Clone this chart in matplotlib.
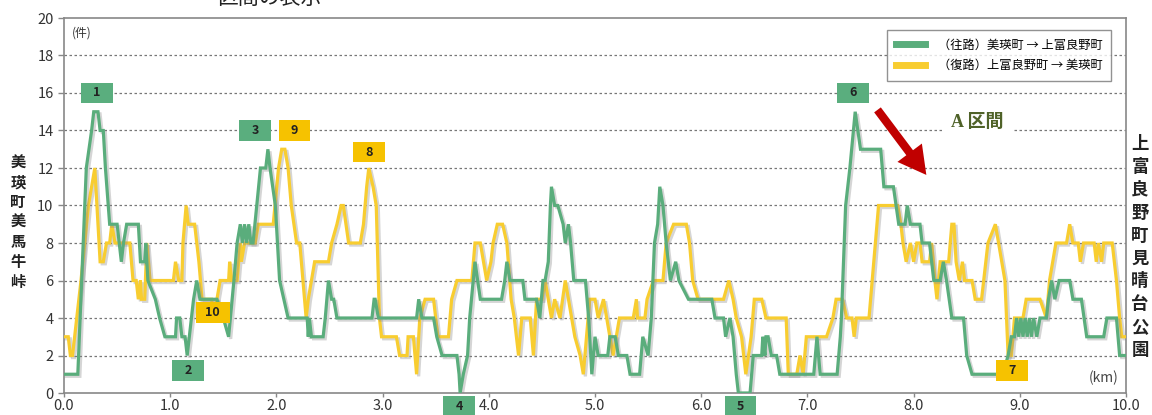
import matplotlib
matplotlib.use("Agg")
import matplotlib.pyplot as plt
import matplotlib.patheffects as pe
from matplotlib.lines import Line2D
from matplotlib.patches import Rectangle

plt.rcParams['font.family'] = ['Noto Sans CJK JP', 'DejaVu Sans']

# (km, 件数)
green_pts = [(0.00, 1), (0.13, 1), (0.21, 12), (0.26, 14), (0.28, 15), (0.32, 15), (0.34, 14), (0.37, 14),
             (0.39, 12), (0.43, 9), (0.50, 9), (0.52, 8), (0.54, 7), (0.56, 8), (0.59, 9), (0.70, 9),
             (0.72, 7), (0.76, 7), (0.77, 8), (0.79, 6), (0.86, 5), (0.90, 4), (0.95, 3), (1.05, 3),
             (1.06, 4), (1.09, 4), (1.11, 3), (1.14, 3), (1.16, 2), (1.18, 3), (1.22, 5), (1.25, 6),
             (1.28, 5), (1.44, 5), (1.50, 4), (1.55, 3), (1.60, 6), (1.63, 8), (1.66, 9), (1.68, 8),
             (1.70, 9), (1.72, 8), (1.74, 9), (1.76, 8), (1.78, 8), (1.85, 12), (1.90, 12), (1.92, 13),
             (1.94, 12), (1.99, 10), (2.03, 6), (2.07, 5), (2.11, 4), (2.29, 4), (2.30, 3), (2.31, 4),
             (2.33, 3), (2.44, 3), (2.46, 4), (2.49, 6), (2.52, 5), (2.54, 5), (2.57, 4), (2.90, 4),
             (2.92, 5), (2.93, 5), (2.96, 4), (3.32, 4), (3.34, 5), (3.37, 4), (3.48, 4), (3.51, 3),
             (3.56, 2), (3.70, 2), (3.72, 1), (3.73, 0), (3.76, 1), (3.80, 2), (3.82, 4), (3.87, 7),
             (3.92, 5), (4.12, 5), (4.15, 6), (4.17, 7), (4.20, 6), (4.32, 6), (4.34, 5), (4.45, 5),
             (4.48, 4), (4.51, 6), (4.53, 6), (4.56, 7), (4.58, 10), (4.59, 11), (4.62, 10), (4.65, 10),
             (4.70, 9), (4.72, 8), (4.75, 9), (4.77, 8), (4.80, 6), (4.91, 6), (4.94, 4), (4.97, 1),
             (5.00, 3), (5.03, 2), (5.12, 2), (5.14, 3), (5.19, 3), (5.22, 2), (5.30, 2), (5.33, 1),
             (5.42, 1), (5.45, 3), (5.50, 2), (5.53, 4), (5.56, 8), (5.59, 9), (5.61, 11), (5.64, 10),
             (5.67, 8), (5.71, 6), (5.76, 7), (5.79, 6), (5.88, 5), (6.10, 5), (6.13, 4), (6.21, 4),
             (6.23, 3), (6.27, 4), (6.30, 3), (6.33, 1), (6.35, 0), (6.46, 0), (6.49, 2), (6.57, 2),
             (6.58, 3), (6.60, 2), (6.61, 3), (6.63, 3), (6.66, 2), (6.71, 2), (6.74, 1), (7.06, 1),
             (7.09, 3), (7.12, 1), (7.28, 1), (7.31, 3), (7.32, 4), (7.36, 10), (7.40, 12), (7.45, 15),
             (7.50, 13), (7.69, 13), (7.72, 11), (7.81, 11), (7.86, 9), (7.92, 9), (7.94, 10), (7.97, 9),
             (8.06, 9), (8.08, 8), (8.15, 8), (8.19, 6), (8.25, 6), (8.28, 7), (8.31, 6), (8.36, 4),
             (8.47, 4), (8.50, 2), (8.55, 1), (8.84, 1), (8.89, 2), (8.92, 3), (8.95, 3), (8.97, 4),
             (8.99, 3), (9.01, 4), (9.03, 3), (9.05, 4), (9.07, 3), (9.09, 4), (9.11, 3), (9.13, 4),
             (9.16, 3), (9.19, 4), (9.25, 4), (9.27, 5), (9.30, 6), (9.33, 5), (9.37, 6), (9.47, 6),
             (9.50, 5), (9.58, 5), (9.63, 3), (9.79, 3), (9.82, 4), (9.91, 4), (9.94, 2), (10.0, 2)]

yellow_pts = [(0.00, 3), (0.04, 3), (0.06, 2), (0.08, 2), (0.10, 3), (0.16, 6), (0.23, 10), (0.26, 11),
              (0.29, 12), (0.31, 10), (0.34, 7), (0.37, 7), (0.40, 8), (0.43, 8), (0.45, 9), (0.48, 8),
              (0.62, 8), (0.65, 6), (0.68, 6), (0.70, 5), (0.72, 6), (0.73, 5), (0.76, 5), (0.78, 8),
              (0.81, 6), (1.03, 6), (1.05, 7), (1.08, 6), (1.11, 6), (1.12, 8), (1.15, 10), (1.17, 9),
              (1.23, 9), (1.27, 7), (1.30, 5), (1.39, 5), (1.41, 4), (1.44, 5), (1.47, 6), (1.55, 6),
              (1.56, 7), (1.58, 6), (1.63, 6), (1.66, 8), (1.67, 7), (1.70, 8), (1.80, 8), (1.83, 9),
              (1.97, 9), (2.02, 12), (2.05, 13), (2.08, 13), (2.11, 12), (2.14, 10), (2.19, 8), (2.22, 8),
              (2.25, 6), (2.28, 4), (2.30, 5), (2.33, 6), (2.36, 7), (2.49, 7), (2.52, 8), (2.57, 9),
              (2.61, 10), (2.63, 10), (2.68, 8), (2.79, 8), (2.82, 9), (2.85, 11), (2.87, 12), (2.91, 11),
              (2.94, 10), (2.97, 4), (2.99, 3), (3.13, 3), (3.16, 2), (3.23, 2), (3.24, 3), (3.29, 3),
              (3.32, 1), (3.35, 4), (3.40, 5), (3.48, 5), (3.52, 3), (3.62, 3), (3.65, 5), (3.70, 6),
              (3.84, 6), (3.87, 8), (3.92, 8), (3.95, 7), (3.98, 6), (4.02, 7), (4.04, 8), (4.08, 9),
              (4.13, 9), (4.17, 8), (4.21, 5), (4.24, 4), (4.28, 2), (4.31, 4), (4.39, 4), (4.42, 2),
              (4.45, 5), (4.50, 5), (4.53, 6), (4.56, 5), (4.59, 4), (4.62, 5), (4.67, 4), (4.72, 6),
              (4.75, 5), (4.78, 4), (4.81, 3), (4.86, 2), (4.89, 1), (4.92, 3), (4.95, 5), (5.00, 5),
              (5.03, 4), (5.08, 5), (5.11, 4), (5.17, 2), (5.20, 3), (5.23, 4), (5.36, 4), (5.39, 5),
              (5.40, 4), (5.47, 4), (5.49, 5), (5.55, 6), (5.64, 6), (5.67, 8), (5.74, 9), (5.86, 9),
              (5.89, 8), (5.92, 6), (5.97, 5), (6.21, 5), (6.26, 6), (6.30, 5), (6.33, 4), (6.38, 3),
              (6.42, 1), (6.47, 3), (6.50, 5), (6.57, 5), (6.61, 4), (6.80, 4), (6.82, 1), (6.90, 1),
              (6.93, 2), (6.96, 1), (6.99, 3), (7.18, 3), (7.24, 4), (7.27, 5), (7.33, 5), (7.37, 4),
              (7.42, 4), (7.44, 3), (7.46, 4), (7.58, 4), (7.67, 10), (7.85, 10), (7.88, 9), (7.90, 8),
              (7.93, 7), (7.97, 8), (8.00, 7), (8.03, 8), (8.06, 8), (8.08, 7), (8.15, 7), (8.17, 8),
              (8.20, 6), (8.22, 5), (8.25, 7), (8.33, 7), (8.36, 9), (8.38, 9), (8.40, 7), (8.43, 6),
              (8.46, 7), (8.48, 6), (8.55, 6), (8.58, 5), (8.64, 5), (8.66, 6), (8.70, 8), (8.77, 9),
              (8.80, 8), (8.83, 7), (8.86, 6), (8.89, 2), (8.92, 2), (8.95, 4), (9.03, 4), (9.06, 5),
              (9.19, 5), (9.25, 4), (9.28, 6), (9.34, 8), (9.44, 8), (9.47, 9), (9.50, 8), (9.55, 8),
              (9.57, 7), (9.60, 8), (9.70, 8), (9.72, 7), (9.74, 8), (9.77, 7), (9.79, 8), (9.87, 8),
              (9.91, 6), (9.94, 4), (9.96, 3), (10.0, 3)]

series_names = ['（往路）美瑛町 → 上富良野町', '（復路）上富良野町 → 美瑛町']

# numbered markers: text, km, 件, series (0 = green, 1 = yellow)
mark_text = ['1', '2', '3', '4', '5', '6', '7', '8', '9', '10']
mark_km = [0.31, 1.17, 1.80, 3.72, 6.37, 7.43, 8.93, 2.87, 2.17, 1.40]
mark_y = [16.0, 1.2, 14.0, -0.72, -0.72, 16.0, 1.2, 12.85, 14.0, 4.3]
mark_series = [0, 0, 0, 0, 0, 0, 1, 1, 1, 1]

x_ticks = [0, 1, 2, 3, 4, 5, 6, 7, 8, 9, 10]
y_ticks = [0, 2, 4, 6, 8, 10, 12, 14, 16, 18, 20]

GREEN = '#5aad7c'
YELLOW = '#f8cd30'
BOX_COLORS = ['#5aae7e', '#f6c200']

fig = plt.figure(figsize=(11.52, 4.15), dpi=100)
ax = fig.add_axes([64 / 1152, 1 - 393 / 415, (1126 - 64) / 1152, (393 - 18) / 415])

shadow = [pe.SimpleLineShadow(offset=(1.5, -1.5), shadow_color='#888888', alpha=0.35), pe.Normal()]
for pts, col, z in [(yellow_pts, YELLOW, 3), (green_pts, GREEN, 4)]:
    xs = [p[0] for p in pts]
    ys = [p[1] for p in pts]
    ax.plot(xs, ys, color=col, lw=2.3, zorder=z, solid_joinstyle='miter', path_effects=shadow)

ax.set_xlim(0, 10)
ax.set_ylim(0, 20)
ax.set_xticks(x_ticks)
ax.set_xticklabels([f'{v:.1f}' for v in x_ticks])
ax.set_yticks(y_ticks)
for v in y_ticks[1:-1]:
    ax.axhline(v, color='#777777', lw=0.9, ls=(0, (2, 2)), zorder=1)

for s in ax.spines.values():
    s.set_color('#888888')
    s.set_linewidth(1.2)
ax.tick_params(axis='both', colors='#888888', labelcolor='#333333', labelsize=10.5, length=4, width=1)
ax.tick_params(axis='x', length=3, pad=1.5)

# numbered boxes
for t, k, v, s in zip(mark_text, mark_km, mark_y, mark_series):
    w = 0.30 if len(t) == 1 else 0.32
    ax.add_patch(Rectangle((k - w / 2, v - 0.55), w, 1.1, facecolor=BOX_COLORS[s],
                           edgecolor='none', zorder=6, clip_on=False))
    ax.text(k, v, t, ha='center', va='center', fontsize=9, fontweight='bold',
            color='#222222', zorder=7, clip_on=False)

# legend
handles = [Line2D([], [], color=GREEN, lw=5), Line2D([], [], color=YELLOW, lw=5)]
leg = ax.legend(handles, series_names, loc='upper right', bbox_to_anchor=(0.9915, 0.984),
                fontsize=8.8, handlelength=2.4, frameon=True, fancybox=False,
                borderpad=0.7, labelspacing=0.6, handletextpad=1.0)
leg.get_frame().set_edgecolor('#777777')
leg.get_frame().set_linewidth(1.0)
leg.set_zorder(8)

# annotations
ax.text(0.0075, 0.96, '(件)', transform=ax.transAxes, ha='left', va='center', fontsize=8.5, color='#333333')
ax.text(0.9925, 0.04, '(km)', transform=ax.transAxes, ha='right', va='center', fontsize=10, color='#444444')
ax.text(8.60, 14.45, 'A 区間', ha='center', va='center', fontsize=13, fontweight='bold',
        color='#4f6228', family=['Liberation Serif', 'Noto Sans CJK JP'], zorder=5,
        bbox=dict(facecolor='white', edgecolor='none', pad=6))
ax.annotate('', xy=(8.12, 11.63), xytext=(7.66, 15.1),
            arrowprops=dict(facecolor='#c00000', edgecolor='none', width=6, headwidth=22,
                            headlength=20, shrink=0), zorder=6)

fig.text(18 / 1152, 1 - 222 / 415, '\n'.join('美瑛町美馬牛峠'), ha='center', va='center',
         fontsize=11, fontweight='bold', linespacing=1.3, color='#222222')
fig.text(1140 / 1152, 1 - 247 / 415, '\n'.join('上富良野町見晴台公園'), ha='center', va='center',
         fontsize=12.5, fontweight='bold', linespacing=1.35, color='#222222')
fig.text(217 / 1152, 1 + 2 / 415, '区間の表示', ha='left', va='center', fontsize=15, color='#222222')

fig.savefig('out.png', dpi=100)
